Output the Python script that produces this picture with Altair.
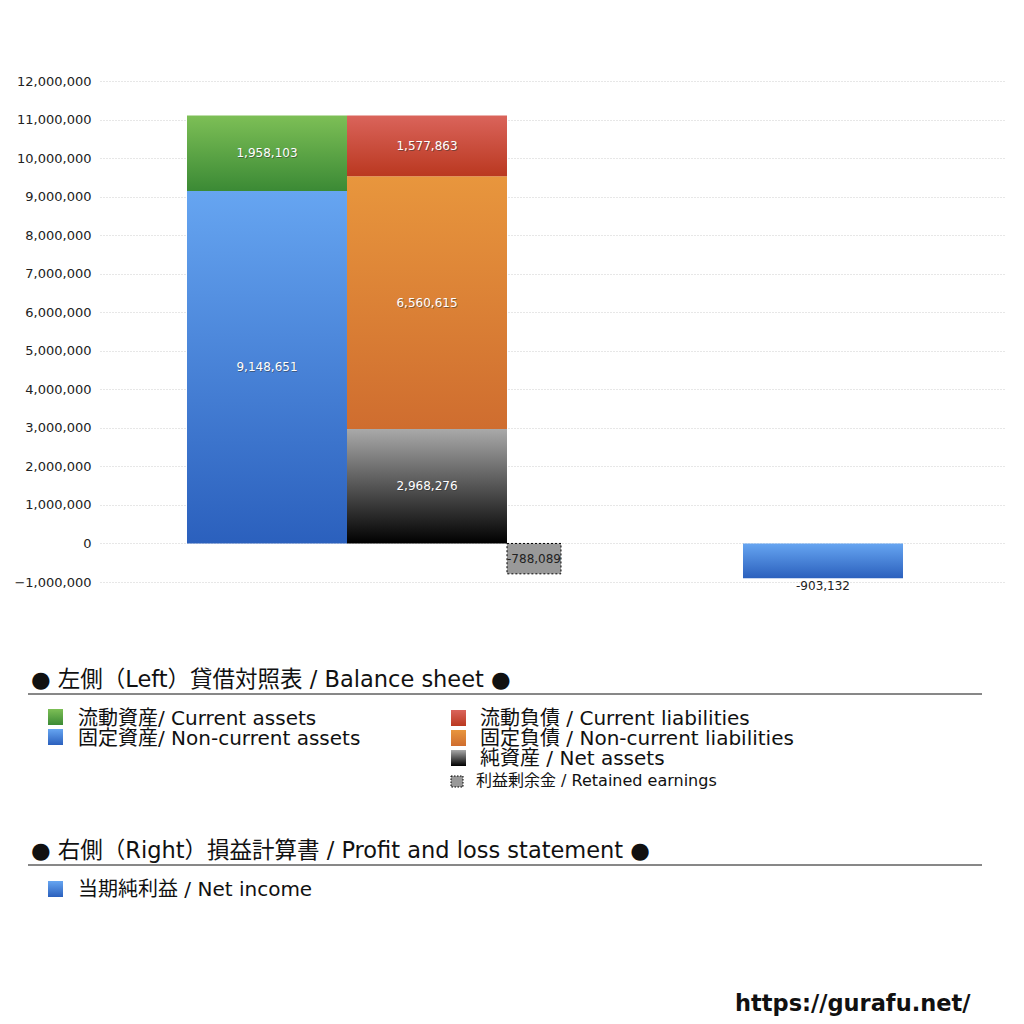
import altair as alt
import pandas as pd

# ---------------- data ----------------
slots = ["資産", "負債・純資産", "利益剰余金", "当期純利益"]

asset_items = ["固定資産", "流動資産"]            # bottom -> top
asset_values = [9148651, 1958103]

liab_items = ["純資産", "固定負債", "流動負債"]      # bottom -> top
liab_values = [2968276, 6560615, 1577863]

retained_item = "利益剰余金"
retained_value = -788089

income_item = "当期純利益"
income_value = -903132

y_ticks = list(range(-1000000, 12000001, 1000000))

legend_left = ["流動資産/ Current assets", "固定資産/ Non-current assets"]
legend_right = ["流動負債 /  Current liabilities", "固定負債 / Non-current liabilities",
                "純資産 / Net assets"]
legend_retained = "利益剰余金 / Retained earnings"
legend_income = "当期純利益 / Net income"
header_bs = "● 左側（Left）貸借対照表 / Balance sheet ●"
header_pl = "● 右側（Right）損益計算書 / Profit and loss statement ●"
watermark = "https://gurafu.net/"

# ---------------- build table ----------------
rows = []
def add_stack(slot, items, values):
    base = 0
    for it, v in zip(items, values):
        rows.append({"slot": slot, "item": it, "value": v, "y0": base, "y1": base + v,
                     "mid": base + v / 2, "label": f"{v:,}"})
        base += v

add_stack(slots[0], asset_items, asset_values)
add_stack(slots[1], liab_items, liab_values)
rows.append({"slot": slots[2], "item": retained_item, "value": retained_value, "y0": 0,
             "y1": retained_value, "mid": retained_value / 2, "label": f"{retained_value:,}"})
rows.append({"slot": slots[3], "item": income_item, "value": income_value, "y0": 0,
             "y1": income_value, "mid": income_value / 2, "label": f"{income_value:,}"})
df = pd.DataFrame(rows)

W, H = 905, 501
PADL, PADT = 92, 73
FONT = "DejaVu Sans, Noto Sans CJK JP"

def grad(top, bottom):
    return alt.Gradient(gradient="linear", x1=0, y1=0, x2=0, y2=1,
                        stops=[alt.GradientStop(color=top, offset=0),
                               alt.GradientStop(color=bottom, offset=1)])

colors = {
    "流動資産": grad("#7dbf56", "#3b8a35"),
    "固定資産": grad("#66a5f1", "#2b60bd"),
    "流動負債": grad("#da645b", "#ba3820"),
    "固定負債": grad("#e8963d", "#cf6d2f"),
    "純資産": grad("#a9a9a9", "#000000"),
    "当期純利益": grad("#66a5f1", "#2b60bd"),
}

# band scale spanning the whole plot width (so the grid spans it too)
xscale = alt.Scale(domain=slots, paddingInner=0, paddingOuter=0.828125, align=0.3283)
yscale = alt.Scale(domain=[-1000000, 12000000], nice=False, zero=False)
yaxis = alt.Axis(title=None, values=y_ticks, format=",d", grid=True,
                 gridColor="#cfcfcf", gridDash=[1, 2], gridWidth=1, labelOverlap=False,
                 domain=False, ticks=False, labelFont="DejaVu Sans", labelFontSize=13,
                 labelColor="#222", labelPadding=9)

def Y(field):
    return alt.Y(field, scale=yscale, axis=yaxis)

def xenc():
    return alt.X("slot:N", scale=xscale, axis=None)

def xmid():
    return alt.X("slot:N", scale=xscale, axis=None, bandPosition=0.5)

base = alt.Chart(df)
layers = []

for it in asset_items + liab_items:
    layers.append(
        base.transform_filter(alt.datum.item == it).mark_bar(fill=colors[it]).encode(
            x=xenc(), y=Y("y0:Q"), y2="y1:Q")
    )

layers.append(
    base.transform_filter(alt.datum.item == retained_item).mark_bar(
        fill="#999999", stroke="#000", strokeDash=[2, 2], strokeWidth=1,
        width=54, xOffset=-53).encode(
        x=xenc(), y=Y("y0:Q"), y2="y1:Q")
)
layers.append(
    base.transform_filter(alt.datum.item == income_item).mark_bar(
        fill=colors[income_item], xOffset=76).encode(
        x=xenc(), y=Y("y0:Q"), y2="y1:Q")
)

# labels in stacked bars (with soft shadow)
stack_items = asset_items + liab_items
lab = base.transform_filter(alt.FieldOneOfPredicate(field="item", oneOf=stack_items))
layers.append(lab.mark_text(font="DejaVu Sans", fontSize=12, color="#333", opacity=0.5,
                            dx=0.8, dy=1).encode(
    x=xmid(), y=Y("mid:Q"), text="label:N"))
layers.append(lab.mark_text(font="DejaVu Sans", fontSize=12, color="#ffffff").encode(
    x=xmid(), y=Y("mid:Q"), text="label:N"))

layers.append(
    base.transform_filter(alt.datum.item == retained_item).mark_text(
        font="DejaVu Sans", fontSize=12, color="#222", dx=-53).encode(
        x=xmid(), y=Y("mid:Q"), text="label:N")
)
layers.append(
    base.transform_filter(alt.datum.item == income_item).mark_text(
        font="DejaVu Sans", fontSize=12, color="#222", dx=76, baseline="top", dy=3).encode(
        x=xmid(), y=Y("y1:Q"), text="label:N")
)

# ---------------- legend (page coords -> view coords) ----------------
def px(x):
    return x - (8 + PADL)

def py(y):
    return y - (8 + PADT)

def text_layer(s, x, y, size, bold=False, font=FONT):
    d = pd.DataFrame({"t": [s]})
    return alt.Chart(d).mark_text(font=font, fontSize=size, align="left", baseline="middle",
                                  color="#111", fontWeight="bold" if bold else "normal").encode(
        x=alt.value(px(x)), y=alt.value(py(y)), text="t:N")

def rule_layer(x1, x2, y):
    d = pd.DataFrame({"k": [0]})
    return alt.Chart(d).mark_rule(color="#111", strokeWidth=1).encode(
        x=alt.value(px(x1)), x2=alt.value(px(x2)), y=alt.value(py(y)))

def swatch(x, y, w, h, fill, dashed=False):
    d = pd.DataFrame({"k": [0]})
    kw = dict(fill=fill)
    if dashed:
        kw.update(stroke="#000", strokeDash=[1.5, 1.5], strokeWidth=1)
    return alt.Chart(d).mark_rect(**kw).encode(
        x=alt.value(px(x)), x2=alt.value(px(x + w)),
        y=alt.value(py(y)), y2=alt.value(py(y + h)))

leg = []
leg.append(text_layer(header_bs, 31, 680, 22.5))
leg.append(rule_layer(28, 982, 694))
left_cols = ["流動資産", "固定資産"]
for i, (s, k) in enumerate(zip(legend_left, left_cols)):
    yy = 718 + 20 * i
    leg.append(swatch(48, yy - 9, 15, 16, colors[k]))
    leg.append(text_layer(s, 78, yy + 1, 20))
right_cols = ["流動負債", "固定負債", "純資産"]
for i, (s, k) in enumerate(zip(legend_right, right_cols)):
    yy = 718 + 20 * i
    leg.append(swatch(451, yy - 8, 15, 16, colors[k]))
    leg.append(text_layer(s, 480, yy + 1, 20))
leg.append(swatch(451, 776, 12, 11, "#999999", dashed=True))
leg.append(text_layer(legend_retained, 476, 781, 16))

leg.append(text_layer(header_pl, 31, 851, 22.5))
leg.append(rule_layer(28, 982, 865))
leg.append(swatch(48, 881, 15, 16, colors[income_item]))
leg.append(text_layer(legend_income, 78, 890, 20))

leg.append(text_layer(watermark, 735, 1004, 22.5, bold=True, font="DejaVu Sans"))

chart = alt.layer(*layers, *leg).properties(
    width=W, height=H,
    background="white",
    padding={"left": PADL, "top": PADT, "right": 11, "bottom": 1008 - PADT - H},
    autosize=alt.AutoSizeParams(type="none"),
).configure_view(strokeWidth=0, stroke="transparent")

chart.save("out.html", embed_options={"renderer": "svg", "actions": False})
